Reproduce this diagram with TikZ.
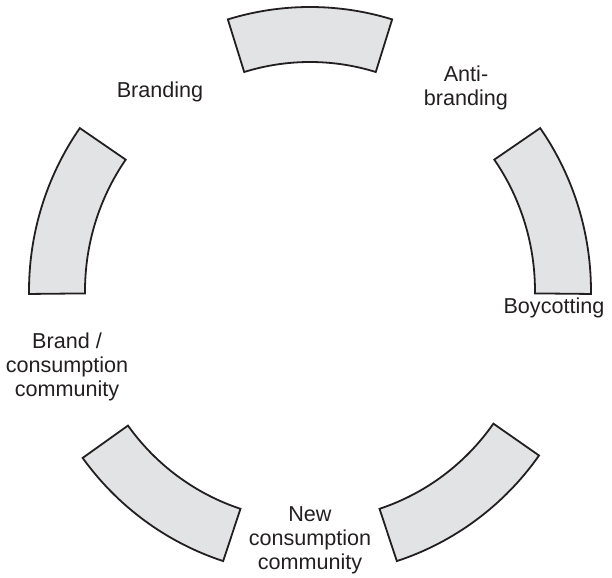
\documentclass[tikz,border=0pt]{standalone}
\usepackage{fontspec}
\setmainfont{Liberation Sans}
\usepackage{tikz}
\usetikzlibrary{positioning}
\definecolor{bandgray}{HTML}{E2E3E5}
\definecolor{inkline}{HTML}{231F20}

\begin{document}
\begin{tikzpicture}[
      x=0.5pt, y=0.5pt,
      band/.style={draw=inkline, fill=bandgray, line width=0.9pt, line join=miter},
      phase/.style={align=center, text=inkline, font=\fontsize{10.8}{12}\selectfont}
    ]

    \useasboundingbox (-310,-287) rectangle (302,291);

    % Ring segments
    \foreach \a/\b in {-0.6/35, 73/107, 145/180.6, 216/252, 288/324.6}
      \draw[band] (\a:281 and 284) arc[start angle=\a, end angle=\b, x radius=281, y radius=284]
        -- (\b:225 and 229) arc[start angle=\b, end angle=\a, x radius=225, y radius=229] -- cycle;

    % Labels
    \node[phase] (branding) at (-150,199) {Branding};
    \node[phase] (antiBranding) at (156,203) {Anti-\\branding};
    \node[phase] (boycotting) at (244,-17) {Boycotting};
    \node[phase] (newCommunity) at (0,-249) {New\\consumption\\community};
    \node[phase] (brandCommunity) at (-243,-76) {Brand /\\consumption\\community};

  \end{tikzpicture}
\end{document}
